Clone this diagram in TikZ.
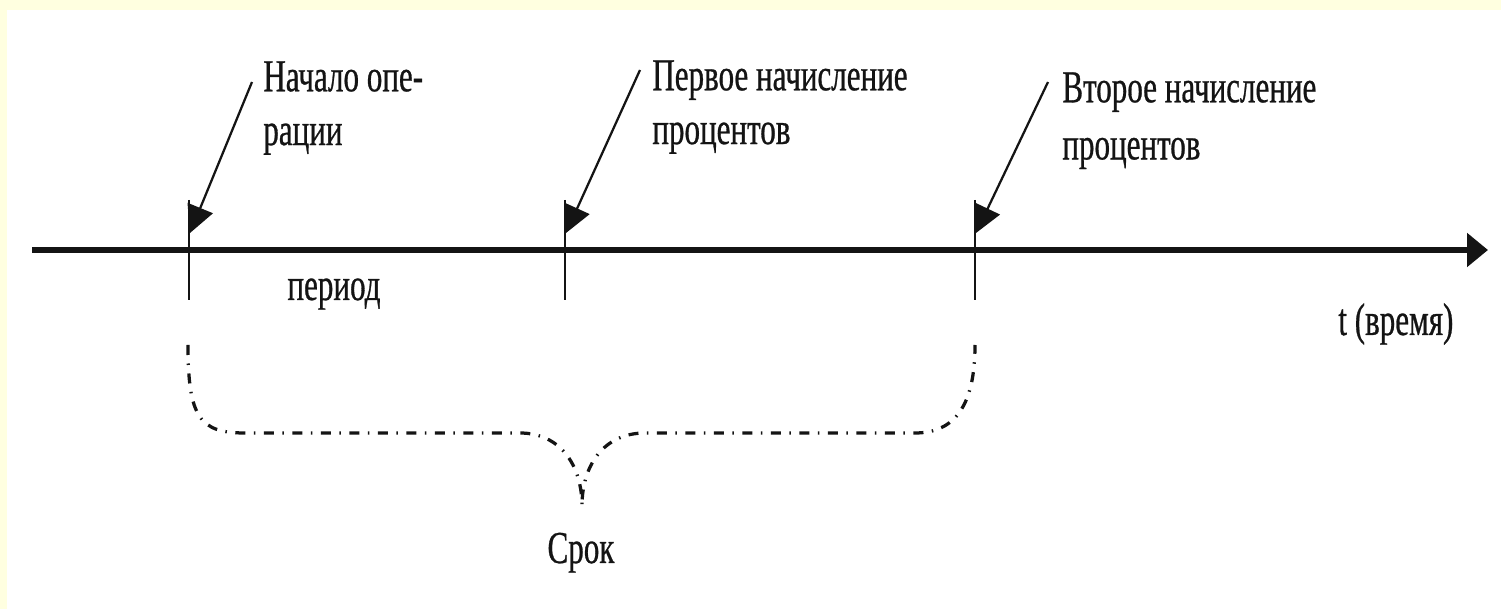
\documentclass[tikz,border=0pt]{standalone}
\usepackage{fontspec}
\newfontfamily\lblfont{Liberation Serif}[FakeStretch=0.68,FakeBold=0.6]
\usetikzlibrary{arrows.meta}
\definecolor{slidebg}{RGB}{255,255,224}
\definecolor{ink}{RGB}{20,20,20}
\tikzset{
 axisline/.style={draw=ink, line width=1.2mm, -{Triangle[length=4.2mm,width=6.6mm]}},
 tickline/.style={draw=ink, line width=0.4mm},
 pointer/.style={draw=ink, line width=0.45mm, -{Triangle[length=5.4mm,width=5.4mm]}},
 lbl/.style={inner sep=0pt, align=left, text=ink, font=\lblfont\fontsize{26}{30.6}\selectfont},
 bracepath/.style={draw=ink, line width=0.65mm, dash pattern=on 2mm off 1.7mm on 0.3mm off 1.7mm}
}
\begin{document}
\begin{tikzpicture}[x=0.2mm, y=-0.2mm]
\useasboundingbox (0,0) rectangle (1501,609);
\fill[slidebg] (0,0) rectangle (1501,609);
\fill[white] (7,10) rectangle (1501,609);

% time axis
\coordinate (axL) at (32,250);
\coordinate (axR) at (1488,250);
\draw[axisline] (axL) -- (axR);

\foreach \n/\x in {1/189,2/565,3/975}{
  \coordinate (top\n) at (\x,200);
  \coordinate (bot\n) at (\x,300);
  \coordinate (tip\n) at (\x+1,233);
  \draw[tickline] (top\n) -- (bot\n);
}

\node[lbl, anchor=north west] (start) at (263,61) {Начало опе-\\рации};
\node[lbl, anchor=north west] (first) at (652,60) {Первое начисление\\процентов};
\node[lbl, anchor=north west, font=\lblfont\fontsize{26}{32.5}\selectfont] (second) at (1062,72) {Второе начисление\\процентов};

\coordinate (from1) at (252,82);
\coordinate (from2) at (640,70);
\coordinate (from3) at (1048,82);
\draw[pointer] (from1) -- (tip1);
\draw[pointer] (from2) -- (tip2);
\draw[pointer] (from3) -- (tip3);

\node[lbl, anchor=base] (period) at (334,300) {период};
\node[lbl, anchor=base west] (time) at (1338,335) {t (время)};

% brace under the two periods
\coordinate (brL) at (188,345);
\coordinate (brM) at (582,506);
\coordinate (brR) at (975,345);
\draw[bracepath] (brL) .. controls (188,418) and (200,433) .. (245,433) -- (520,433)
  .. controls (560,433) and (582,465) .. (brM)
  .. controls (582,465) and (604,433) .. (645,433) -- (915,433)
  .. controls (955,433) and (975,405) .. (brR);
\node[lbl, anchor=base] (term) at (581,563) {Срок};

\end{tikzpicture}
\end{document}
